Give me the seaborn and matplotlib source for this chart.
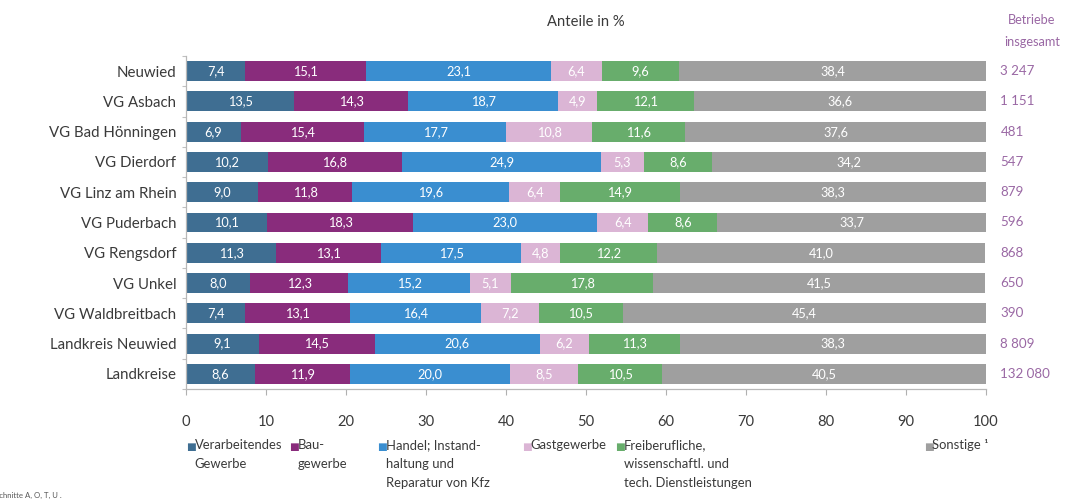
import numpy as np
import pandas as pd
import matplotlib
matplotlib.use("Agg")
import matplotlib.pyplot as plt
import matplotlib.transforms as mtransforms
import seaborn as sns

# --- data -------------------------------------------------------------------
regions = [
    "Neuwied", "VG Asbach", "VG Bad Hönningen", "VG Dierdorf",
    "VG Linz am Rhein", "VG Puderbach", "VG Rengsdorf", "VG Unkel",
    "VG Waldbreitbach", "Landkreis Neuwied", "Landkreise",
]
verarbeitendes = [7.4, 13.5, 6.9, 10.2, 9.0, 10.1, 11.3, 8.0, 7.4, 9.1, 8.6]
baugewerbe = [15.1, 14.3, 15.4, 16.8, 11.8, 18.3, 13.1, 12.3, 13.1, 14.5, 11.9]
handel = [23.1, 18.7, 17.7, 24.9, 19.6, 23.0, 17.5, 15.2, 16.4, 20.6, 20.0]
gastgewerbe = [6.4, 4.9, 10.8, 5.3, 6.4, 6.4, 4.8, 5.1, 7.2, 6.2, 8.5]
freiberufliche = [9.6, 12.1, 11.6, 8.6, 14.9, 8.6, 12.2, 17.8, 10.5, 11.3, 10.5]
sonstige = [38.4, 36.6, 37.6, 34.2, 38.3, 33.7, 41.0, 41.5, 45.4, 38.3, 40.5]
betriebe = [3247, 1151, 481, 547, 879, 596, 868, 650, 390, 8809, 132080]

series_labels = [
    "Verarbeitendes\nGewerbe",
    "Bau-\ngewerbe",
    "Handel; Instand-\nhaltung und\nReparatur von Kfz",
    "Gastgewerbe",
    "Freiberufliche,\nwissenschaftl. und\ntech. Dienstleistungen",
    "Sonstige ¹",
]
x_ticks = [0, 10, 20, 30, 40, 50, 60, 70, 80, 90, 100]

# --- styling ----------------------------------------------------------------
colors = ["#3f6e92", "#892c7c", "#3a8ed0", "#dbb5d5", "#68ad6c", "#9f9f9f"]
text_gray = "#3a3a3a"
purple_text = "#9a68a4"
legend_x = [0, 12.9, 23.9, 42.0, 53.6, 92.2]

sns.set_theme(style="white")
plt.rcParams["font.family"] = ["Lato", "DejaVu Sans"]

values = np.array([verarbeitendes, baugewerbe, handel,
                   gastgewerbe, freiberufliche, sonstige]).T
cumulative = np.cumsum(values, axis=1)
df = pd.DataFrame(cumulative, columns=[f"c{i}" for i in range(6)])
df["region"] = regions

W, H = 1075, 504
fig = plt.figure(figsize=(W / 100, H / 100), dpi=100)
ax = fig.add_axes([186 / W, 1 - 389 / H, 800 / W, 333 / H])

# stacked bars: draw the running totals from the outermost layer inwards
for k in range(5, -1, -1):
    sns.barplot(data=df, x=f"c{k}", y="region", color=colors[k],
                saturation=1, width=0.66, orient="h", linewidth=0, ax=ax)

# value labels in each segment
for i in range(len(regions)):
    for k in range(6):
        centre = cumulative[i, k] - values[i, k] / 2
        ax.text(centre, i, f"{values[i, k]:.1f}".replace(".", ","),
                ha="center", va="center", color="white", fontsize=9.2)

# totals column
row_tr = mtransforms.blended_transform_factory(ax.transAxes, ax.transData)
for i, n in enumerate(betriebe):
    ax.text(1.018, i, f"{n:,}".replace(",", " "), transform=row_tr,
            ha="left", va="center", color=purple_text, fontsize=9.6)

ax.set_xlim(0, 100)
ax.set_ylim(len(regions) - 0.5, -0.5)
ax.set_xticks(x_ticks)
ax.set_xticklabels([str(t) for t in x_ticks])
ax.set_xlabel("")
ax.set_ylabel("")
ax.tick_params(axis="x", bottom=True, length=4, width=0.8, color="#b0b0b0",
               pad=15, labelsize=10.6, labelcolor=text_gray)
ax.tick_params(axis="y", left=False, length=0, pad=7, labelsize=10.8,
               labelcolor=text_gray)
ax.set_yticks(np.arange(-0.5, len(regions), 1.0), minor=True)
ax.tick_params(axis="y", which="minor", left=True, length=3, width=0.8,
               color="#c0c0c0")
for side in ("top", "right"):
    ax.spines[side].set_visible(False)
for side in ("left", "bottom"):
    ax.spines[side].set_visible(True)
    ax.spines[side].set_color("#b8b8b8")
    ax.spines[side].set_linewidth(0.9)
ax.grid(False)

# headers
fig.text(586 / W, 1 - 22 / H, "Anteile in %", ha="center", va="center",
         color=text_gray, fontsize=10.6)
fig.text(1032 / W, 1 - 20 / H, "Betriebe", ha="center", va="center",
         color=purple_text, fontsize=9.2)
fig.text(1032 / W, 1 - 42 / H, "insgesamt", ha="center", va="center",
         color=purple_text, fontsize=9.2)

# legend below the axis
leg_tr = mtransforms.blended_transform_factory(ax.transData, fig.transFigure)
for k, (lx, lab) in enumerate(zip(legend_x, series_labels)):
    fig.text(lx, 1 - 442 / H, "■", transform=leg_tr, ha="left", va="top",
             color=colors[k], fontsize=7.5, family="DejaVu Sans")
    fig.text(lx + 1.1, 1 - 439 / H, lab, transform=leg_tr, ha="left", va="top",
             color=text_gray, fontsize=9.4, linespacing=1.72)

# footnote
fig.text(62 / W, 1 - 495 / H, "¹ Ohne Wirtschaftsabschnitte A, O, T, U .",
         ha="right", va="center", color="#555555", fontsize=5.6)

fig.savefig("out.png", dpi=100, facecolor="white")
